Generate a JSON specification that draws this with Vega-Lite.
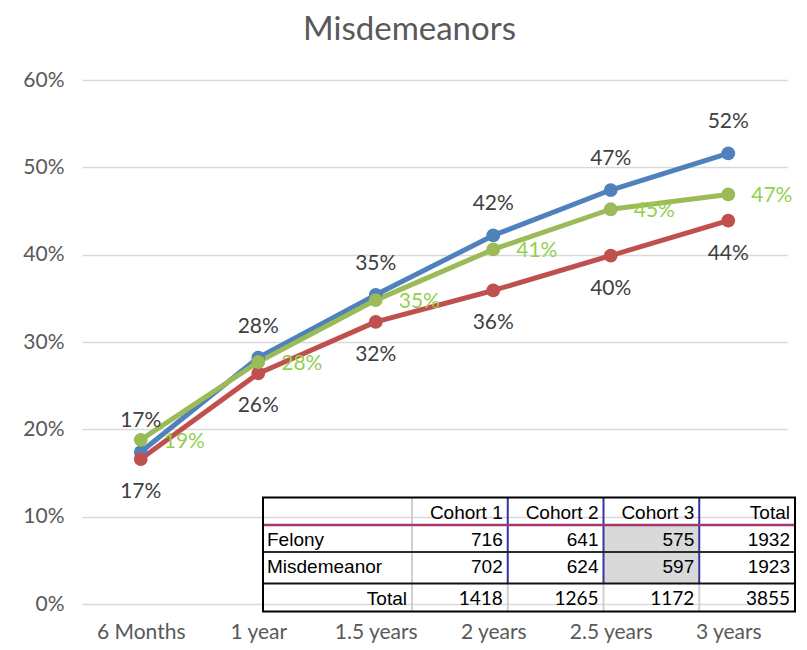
{
  "$schema": "https://vega.github.io/schema/vega-lite/v6.json",
  "width": 705,
  "height": 524,
  "autosize": {"type": "none"},
  "padding": {"left": 82, "top": 80, "right": 20, "bottom": 46},
  "background": "white",
  "config": {"view": {"stroke": null}},
  "title": {
    "text": "Misdemeanors",
    "font": "Lato",
    "fontSize": 33,
    "fontWeight": "normal",
    "color": "#595959",
    "anchor": "middle",
    "frame": "bounds",
    "offset": 22
  },
  "layer": [
    {
      "data": {
        "values": [
          {"period": "6 Months", "series": "Cohort 1", "value": 0.174},
          {"period": "6 Months", "series": "Cohort 2", "value": 0.166},
          {"period": "6 Months", "series": "Cohort 3", "value": 0.188},
          {"period": "1 year", "series": "Cohort 1", "value": 0.282},
          {"period": "1 year", "series": "Cohort 2", "value": 0.264},
          {"period": "1 year", "series": "Cohort 3", "value": 0.277},
          {"period": "1.5 years", "series": "Cohort 1", "value": 0.354},
          {"period": "1.5 years", "series": "Cohort 2", "value": 0.323},
          {"period": "1.5 years", "series": "Cohort 3", "value": 0.348},
          {"period": "2 years", "series": "Cohort 1", "value": 0.422},
          {"period": "2 years", "series": "Cohort 2", "value": 0.359},
          {"period": "2 years", "series": "Cohort 3", "value": 0.406},
          {"period": "2.5 years", "series": "Cohort 1", "value": 0.474},
          {"period": "2.5 years", "series": "Cohort 2", "value": 0.399},
          {"period": "2.5 years", "series": "Cohort 3", "value": 0.452},
          {"period": "3 years", "series": "Cohort 1", "value": 0.516},
          {"period": "3 years", "series": "Cohort 2", "value": 0.439},
          {"period": "3 years", "series": "Cohort 3", "value": 0.469}
        ]
      },
      "encoding": {
        "x": {
          "field": "period",
          "type": "ordinal",
          "sort": ["6 Months", "1 year", "1.5 years", "2 years", "2.5 years", "3 years"],
          "scale": {"type": "point", "padding": 0.5},
          "axis": {
            "title": null,
            "labelAngle": 0,
            "labelFont": "Lato",
            "labelFontSize": 21,
            "labelColor": "#595959",
            "ticks": false,
            "tickSize": 0,
            "domain": false,
            "grid": false,
            "labelPadding": 17
          }
        },
        "y": {
          "field": "value",
          "type": "quantitative",
          "scale": {"domain": [0, 0.6], "nice": false},
          "axis": {
            "title": null,
            "format": ".0%",
            "values": [0, 0.1, 0.2, 0.3, 0.4, 0.5, 0.6],
            "grid": true,
            "gridColor": "#D9D9D9",
            "gridWidth": 1.5,
            "domain": false,
            "ticks": false,
            "tickSize": 0,
            "labelPadding": 18,
            "labelFont": "Lato",
            "labelFontSize": 21,
            "labelColor": "#595959"
          }
        }
      },
      "layer": [
        {
          "mark": {"type": "line", "strokeWidth": 5, "strokeCap": "round", "strokeJoin": "round"},
          "encoding": {
            "color": {
              "field": "series",
              "type": "nominal",
              "scale": {"domain": ["Cohort 1", "Cohort 2", "Cohort 3"], "range": ["#4F81BD", "#C0504D", "#9BBB59"]},
              "legend": null
            }
          }
        },
        {
          "mark": {"type": "point", "filled": true, "size": 190, "opacity": 1},
          "encoding": {
            "color": {
              "field": "series",
              "type": "nominal",
              "scale": {"domain": ["Cohort 1", "Cohort 2", "Cohort 3"], "range": ["#4F81BD", "#C0504D", "#9BBB59"]},
              "legend": null
            }
          }
        },
        {
          "transform": [{"filter": "datum.series === 'Cohort 1'"}],
          "mark": {"type": "text", "font": "Lato", "fontSize": 21, "color": "#404040", "dy": -31, "baseline": "middle"},
          "encoding": {"text": {"field": "value", "type": "quantitative", "format": ".0%"}}
        },
        {
          "transform": [{"filter": "datum.series === 'Cohort 2'"}],
          "mark": {"type": "text", "font": "Lato", "fontSize": 21, "color": "#404040", "dy": 33, "baseline": "middle"},
          "encoding": {"text": {"field": "value", "type": "quantitative", "format": ".0%"}}
        },
        {
          "transform": [{"filter": "datum.series === 'Cohort 3'"}],
          "mark": {"type": "text", "font": "Lato", "fontSize": 21, "color": "#92D050", "dx": 23, "dy": 2, "align": "left", "baseline": "middle"},
          "encoding": {"text": {"field": "value", "type": "quantitative", "format": ".0%"}}
        }
      ]
    },
    {
      "data": {
        "values": [
          {"r": 0, "c": 2, "text": "Cohort 1"},
          {"r": 0, "c": 3, "text": "Cohort 2"},
          {"r": 0, "c": 4, "text": "Cohort 3"},
          {"r": 0, "c": 5, "text": "Total"},
          {"r": 1, "c": 1, "text": "Felony"},
          {"r": 1, "c": 2, "text": "716"},
          {"r": 1, "c": 3, "text": "641"},
          {"r": 1, "c": 4, "text": "575"},
          {"r": 1, "c": 5, "text": "1932"},
          {"r": 2, "c": 1, "text": "Misdemeanor"},
          {"r": 2, "c": 2, "text": "702"},
          {"r": 2, "c": 3, "text": "624"},
          {"r": 2, "c": 4, "text": "597"},
          {"r": 2, "c": 5, "text": "1923"},
          {"r": 3, "c": 1, "text": "Total"},
          {"r": 3, "c": 2, "text": "1418"},
          {"r": 3, "c": 3, "text": "1265"},
          {"r": 3, "c": 4, "text": "1172"},
          {"r": 3, "c": 5, "text": "3855"}
        ]
      },
      "layer": [
        {
          "data": {"values": [{}]},
          "mark": {"type": "rect", "color": "#D9D9D9"},
          "encoding": {
            "x": {"datum": 3, "type": "quantitative", "scale": {"type": "linear", "domain": [0, 1, 5], "range": [181, 330, 713], "zero": false, "nice": false}, "axis": null},
            "x2": {"datum": 4},
            "y": {"datum": 1, "type": "quantitative", "scale": {"type": "linear", "domain": [0, 1, 2, 3, 4], "range": [417.5, 445, 472, 503.5, 531.5], "zero": false, "nice": false}, "axis": null},
            "y2": {"datum": 3}
          }
        },
        {
          "data": {"values": [{}]},
          "mark": {"type": "rule", "color": "#D0D0D0", "strokeWidth": 2},
          "encoding": {
            "x": {"datum": 1, "type": "quantitative", "axis": null},
            "y": {"datum": 0, "type": "quantitative", "axis": null},
            "y2": {"datum": 4}
          }
        },
        {
          "transform": [{"filter": "datum.r === 0 && datum.c >= 2 && datum.c <= 4"}],
          "mark": {"type": "rule", "color": "#D0D0D0", "strokeWidth": 2},
          "encoding": {
            "x": {"field": "c", "type": "quantitative", "axis": null},
            "y": {"datum": 3, "type": "quantitative", "axis": null},
            "y2": {"datum": 4}
          }
        },
        {
          "transform": [{"filter": "datum.r === 0 && datum.c >= 2 && datum.c <= 4"}],
          "mark": {"type": "rule", "color": "#3535A0", "strokeWidth": 2},
          "encoding": {
            "x": {"field": "c", "type": "quantitative", "axis": null},
            "y": {"datum": 0, "type": "quantitative", "axis": null},
            "y2": {"datum": 3}
          }
        },
        {
          "data": {"values": [{}]},
          "mark": {"type": "rule", "color": "#A3386C", "strokeWidth": 2.5},
          "encoding": {
            "x": {"datum": 0, "type": "quantitative", "axis": null},
            "x2": {"datum": 5},
            "y": {"datum": 1, "type": "quantitative", "axis": null}
          }
        },
        {
          "data": {"values": [{}]},
          "mark": {"type": "rule", "color": "#2B2B2B", "strokeWidth": 2},
          "encoding": {
            "x": {"datum": 0, "type": "quantitative", "axis": null},
            "x2": {"datum": 5},
            "y": {"datum": 2, "type": "quantitative", "axis": null}
          }
        },
        {
          "data": {"values": [{}]},
          "mark": {"type": "rule", "color": "#111111", "strokeWidth": 2},
          "encoding": {
            "x": {"datum": 0, "type": "quantitative", "axis": null},
            "x2": {"datum": 5},
            "y": {"datum": 3, "type": "quantitative", "axis": null}
          }
        },
        {
          "data": {"values": [{}]},
          "mark": {"type": "rect", "filled": false, "stroke": "#000000", "strokeWidth": 2},
          "encoding": {
            "x": {"datum": 0, "type": "quantitative", "axis": null},
            "x2": {"datum": 5},
            "y": {"datum": 0, "type": "quantitative", "axis": null},
            "y2": {"datum": 4}
          }
        },
        {
          "transform": [{"filter": "datum.c === 1 && datum.r < 3"}],
          "mark": {"type": "text", "font": "Liberation Sans", "fontSize": 19, "color": "#000000", "align": "left", "baseline": "middle", "dx": 4, "dy": 15},
          "encoding": {
            "x": {"datum": 0, "type": "quantitative", "axis": null},
            "y": {"field": "r", "type": "quantitative", "axis": null},
            "text": {"field": "text"}
          }
        },
        {
          "transform": [{"filter": "(datum.c > 1 && datum.r < 3) || (datum.c === 1 && datum.r === 3)"}],
          "mark": {"type": "text", "font": "Liberation Sans", "fontSize": 19, "color": "#000000", "align": "right", "baseline": "middle", "dx": -5, "dy": 15},
          "encoding": {
            "x": {"field": "c", "type": "quantitative", "axis": null},
            "y": {"field": "r", "type": "quantitative", "axis": null},
            "text": {"field": "text"}
          }
        },
        {
          "transform": [{"filter": "datum.c > 1 && datum.r === 3"}],
          "mark": {"type": "text", "font": "Lato", "fontSize": 19, "color": "#000000", "align": "right", "baseline": "middle", "dx": -5, "dy": 15},
          "encoding": {
            "x": {"field": "c", "type": "quantitative", "axis": null},
            "y": {"field": "r", "type": "quantitative", "axis": null},
            "text": {"field": "text"}
          }
        }
      ]
    }
  ],
  "resolve": {"scale": {"x": "independent", "y": "independent"}}
}
